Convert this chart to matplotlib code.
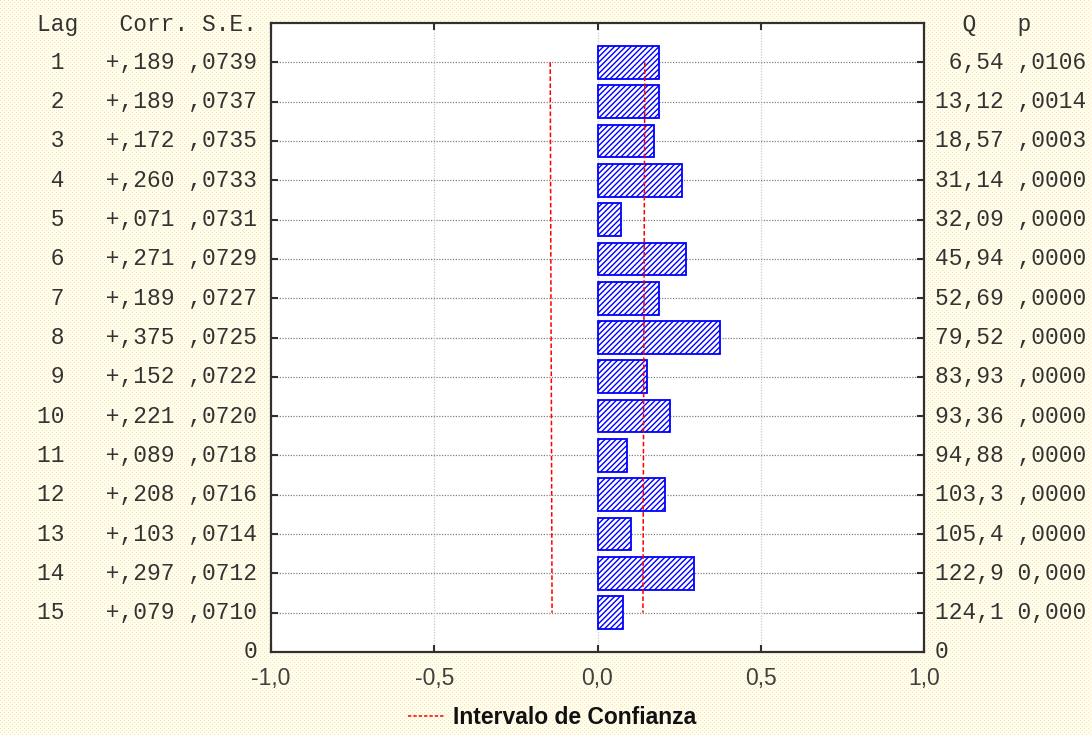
import numpy as np
import matplotlib
matplotlib.use("Agg")
import matplotlib.pyplot as plt

# ---- data ----
lags = [1, 2, 3, 4, 5, 6, 7, 8, 9, 10, 11, 12, 13, 14, 15]
corr = [0.189, 0.189, 0.172, 0.260, 0.071, 0.271, 0.189, 0.375, 0.152, 0.221,
        0.089, 0.208, 0.103, 0.297, 0.079]
se = [0.0739, 0.0737, 0.0735, 0.0733, 0.0731, 0.0729, 0.0727, 0.0725, 0.0722,
      0.0720, 0.0718, 0.0716, 0.0714, 0.0712, 0.0710]
q_labels = ["6,54", "13,12", "18,57", "31,14", "32,09", "45,94", "52,69", "79,52",
            "83,93", "93,36", "94,88", "103,3", "105,4", "122,9", "124,1"]
p_labels = [",0106", ",0014", ",0003", ",0000", ",0000", ",0000", ",0000", ",0000",
            ",0000", ",0000", ",0000", ",0000", ",0000", "0,000", "0,000"]
x_ticks = [-1.0, -0.5, 0.0, 0.5, 1.0]
x_tick_labels = ["-1,0", "-0,5", "0,0", "0,5", "1,0"]
legend_label = "Intervalo de Confianza"
z_conf = 1.96

W, H = 1092, 735
fig = plt.figure(figsize=(W / 100, H / 100), dpi=100)
fig.patch.set_facecolor("#fffbee")

# dotted background pattern
bg = np.ones((H, W, 3))
bg[:, :] = (1.0, 1.0, 0.91)
rr, cc = np.mgrid[0:H, 0:W]
mask = ((rr % 4 == 0) & (cc % 4 == 0)) | ((rr % 4 == 2) & (cc % 4 == 2))
bg[mask] = (1.0, 0.86, 0.88)
fig.figimage(bg, xo=0, yo=0, zorder=-5)

left, right, top, bottom = 271, 924, 23, 652
ax = fig.add_axes([left / W, 1 - bottom / H, (right - left) / W, (bottom - top) / H])
ax.set_facecolor("white")
ax.set_xlim(-1, 1)
ax.set_ylim(16, 0)

plt.rcParams["hatch.linewidth"] = 1.0
plt.rcParams["hatch.color"] = "#0000ff"

ax.barh(lags, corr, height=0.83, left=0, color="white", edgecolor="#0000ff",
        hatch="//////", linewidth=1.3, zorder=3)

ci = [z_conf * s for s in se]
ax.plot([-c for c in ci], lags, color="#ff0000", lw=1.1, dashes=(3, 1.6), zorder=4)
ax.plot(ci, lags, color="#ff0000", lw=1.1, dashes=(3, 1.6), zorder=4)

# grids
for yv in lags:
    ax.axhline(yv, color="#808080", lw=0.9, ls=(0, (1, 1.2)), zorder=1)
for xv in [-0.5, 0.0, 0.5]:
    ax.axvline(xv, color="#c8c8c8", lw=0.9, ls=(0, (1, 1.2)), zorder=1)

for s in ax.spines.values():
    s.set_color("#303030")
    s.set_linewidth(1.6)

ax.set_xticks(x_ticks)
ax.set_xticklabels(x_tick_labels, fontsize=16.5, color="#404040", family="Liberation Sans")
ax.set_yticks(lags)
ax.set_yticklabels([])
ax.tick_params(axis="both", direction="in", length=5, width=1.5, color="#303030",
               top=True, right=True)
ax.tick_params(axis="x", pad=11)

mono = dict(family="Liberation Mono", fontsize=16.5, color="#333333")
ytr = ax.get_yaxis_transform()
xl = (257 - left) / (right - left)
xr = (935 - left) / (right - left)

ax.text(xl, 0.05, "Lag   Corr. S.E.", transform=ytr, ha="right", va="center",
        clip_on=False, **mono)
ax.text(xr, 0.05, "  Q   p", transform=ytr, ha="left", va="center",
        clip_on=False, **mono)
for lag, c, s, q, p in zip(lags, corr, se, q_labels, p_labels):
    lab = f"{lag:2d}   +,{int(round(c * 1000)):03d} ,{int(round(s * 10000)):04d}"
    ax.text(xl, lag, lab, transform=ytr, ha="right", va="center", clip_on=False, **mono)
    ax.text(xr, lag, f"{q:>5s} {p}", transform=ytr, ha="left", va="center",
            clip_on=False, **mono)
ax.text(xl, 16, "0", transform=ytr, ha="right", va="center", clip_on=False, **mono)
ax.text(xr, 16, "0", transform=ytr, ha="left", va="center", clip_on=False, **mono)

# legend
fig.lines.append(plt.Line2D([408 / W, 445 / W], [1 - 716 / H, 1 - 716 / H],
                            transform=fig.transFigure, color="#ff0000", lw=1.1,
                            dashes=(2.2, 1.3)))
fig.text(453 / W, 1 - 718 / H, legend_label, ha="left", va="center",
         fontsize=16.5, fontweight="bold", family="Liberation Sans", color="#111111")

fig.savefig("out.png", dpi=100)
